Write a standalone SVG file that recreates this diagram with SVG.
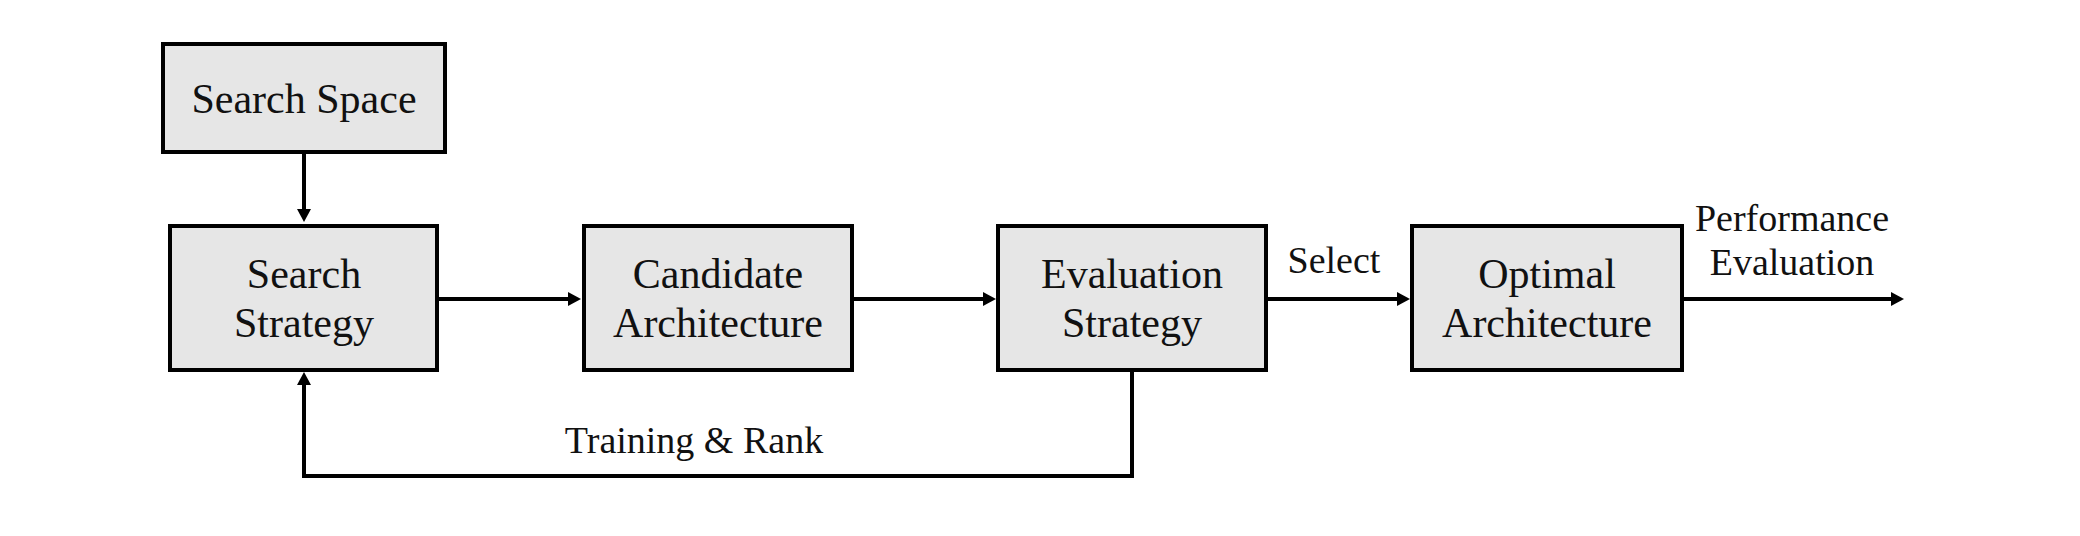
<svg xmlns="http://www.w3.org/2000/svg" width="2080" height="536" viewBox="0 0 2080 536">
<style>
.box{fill:#e6e6e6;stroke:#000;stroke-width:4}
.t{font-family:"Liberation Serif","Times New Roman",serif;font-size:42px;fill:#111;text-anchor:middle}
.l{font-family:"Liberation Serif","Times New Roman",serif;font-size:38px;fill:#111;text-anchor:middle}
.c{fill:none;stroke:#000;stroke-width:4}
</style>
<defs>
<marker id="ah" markerUnits="userSpaceOnUse" markerWidth="14" markerHeight="14" refX="7" refY="7" orient="auto">
<path d="M0,0 L13,7 L0,14 z" fill="#000"/>
</marker>
</defs>
<rect width="2080" height="536" fill="#fff"/>
<g id="connectors">
<path class="c" d="M304,154 V216" marker-end="url(#ah)"/>
<path class="c" d="M439,299 H575" marker-end="url(#ah)"/>
<path class="c" d="M854,299 H990" marker-end="url(#ah)"/>
<path class="c" d="M1268,299 H1404" marker-end="url(#ah)"/>
<path class="c" d="M1684,299 H1898" marker-end="url(#ah)"/>
<path class="c" d="M1132,372 V476 H304 V378" marker-end="url(#ah)"/>
<text class="l" x="1334" y="273">Select</text>
<text class="l" x="1792" y="231">Performance</text>
<text class="l" x="1792" y="275">Evaluation</text>
<text class="l" x="694" y="453">Training &amp; Rank</text>
</g>
<g id="search-space">
<rect class="box" x="163" y="44" width="282" height="108"/>
<text class="t" x="304" y="113">Search Space</text>
</g>
<g id="search-strategy">
<rect class="box" x="170" y="226" width="267" height="144"/>
<text class="t" x="304" y="288">Search</text>
<text class="t" x="304" y="337">Strategy</text>
</g>
<g id="candidate-architecture">
<rect class="box" x="584" y="226" width="268" height="144"/>
<text class="t" x="718" y="288">Candidate</text>
<text class="t" x="718" y="337">Architecture</text>
</g>
<g id="evaluation-strategy">
<rect class="box" x="998" y="226" width="268" height="144"/>
<text class="t" x="1132" y="288">Evaluation</text>
<text class="t" x="1132" y="337">Strategy</text>
</g>
<g id="optimal-architecture">
<rect class="box" x="1412" y="226" width="270" height="144"/>
<text class="t" x="1547" y="288">Optimal</text>
<text class="t" x="1547" y="337">Architecture</text>
</g>
</svg>
